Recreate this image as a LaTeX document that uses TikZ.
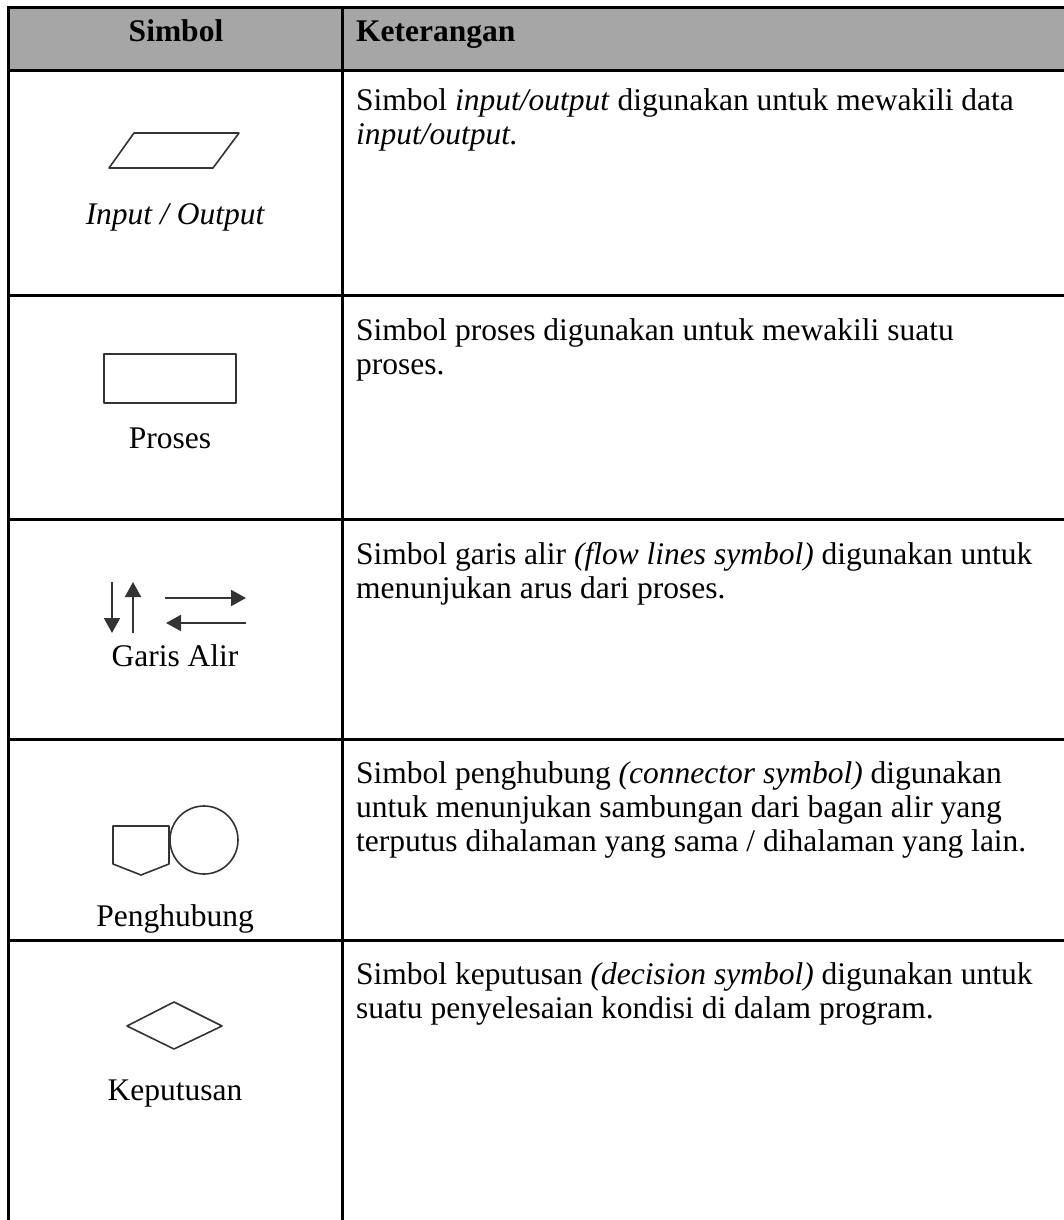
\documentclass[tikz,border=0pt]{standalone}
\usepackage{fontspec}
\setmainfont{Liberation Serif}
\usetikzlibrary{arrows.meta}
\definecolor{headgray}{HTML}{A6A6A6}
\definecolor{shapeline}{HTML}{333333}
\begin{document}
\begin{tikzpicture}[x=1pt,y=-1pt,
  rule/.style={line width=3pt,black},
  sym/.style={line width=1.6pt,shapeline,line join=round},
  flow/.style={line width=2pt,shapeline,-{Triangle[length=15pt,width=16pt]}},
  desc/.style={anchor=base west,inner sep=0pt,font=\fontsize{31.5}{34}\selectfont},
  lbl/.style={anchor=base,inner sep=0pt,font=\fontsize{31.5}{34}\selectfont},
  head/.style={anchor=base,inner sep=0pt,font=\fontsize{31.5}{34}\selectfont\bfseries}]
\useasboundingbox (0,0) rectangle (1064,1220);

% header band
\fill[headgray] (8,8) rectangle (1064,71);

% table rules
\draw[rule] (8,8) -- (1064,8);
\draw[rule] (8,71) -- (1064,71);
\draw[rule] (8,295) -- (1064,295);
\draw[rule] (8,519) -- (1064,519);
\draw[rule] (8,739) -- (1064,739);
\draw[rule] (8,940) -- (1064,940);
\draw[rule] (8,6.5) -- (8,1220);
\draw[rule] (342,8) -- (342,1220);

% header
\node[head] (hs) at (176,42) {Simbol};
\node[head,anchor=base west] (hk) at (356,42) {Keterangan};

% row 1: input/output
\draw[sym] (134,133) -- (239,133) -- (213,168) -- (109,168) -- cycle;
\node[lbl] (l1) at (175,224) {\itshape Input / Output};
\node[desc] (d1a) at (356,111) {Simbol \textit{input/output} digunakan untuk mewakili data};
\node[desc] (d1b) at (356,145) {\textit{input/output.}};

% row 2: process
\draw[sym] (104,354) rectangle (236,403);
\node[lbl] (l2) at (170,448) {Proses};
\node[desc] (d2a) at (356,340) {Simbol proses digunakan untuk mewakili suatu};
\node[desc] (d2b) at (356,374) {proses.};

% row 3: flow lines
\coordinate (dn1) at (112,582);
\coordinate (dn2) at (112,633);
\coordinate (up1) at (133,633);
\coordinate (up2) at (133,582);
\coordinate (rt1) at (165,598);
\coordinate (rt2) at (246,598);
\coordinate (lf1) at (246,623);
\coordinate (lf2) at (166,623);
\draw[flow] (dn1) -- (dn2);
\draw[flow] (up1) -- (up2);
\draw[flow] (rt1) -- (rt2);
\draw[flow] (lf1) -- (lf2);
\node[lbl] (l3) at (175,666) {Garis Alir};
\node[desc] (d3a) at (356,564) {Simbol garis alir \textit{(flow lines symbol)} digunakan untuk};
\node[desc] (d3b) at (356,598) {menunjukan arus dari proses.};

% row 4: connectors
\draw[sym] (113,826) -- (169,826) -- (169,864) -- (141,875) -- (113,864) -- cycle;
\draw[sym] (204,840) circle[radius=34];
\node[lbl] (l4) at (175,926) {Penghubung};
\node[desc] (d4a) at (356,783) {Simbol penghubung \textit{(connector symbol)} digunakan};
\node[desc] (d4b) at (356,817) {untuk menunjukan sambungan dari bagan alir yang};
\node[desc] (d4c) at (356,851) {terputus dihalaman yang sama / dihalaman yang lain.};

% row 5: decision
\draw[sym] (127,1026) -- (174,1002) -- (222,1026) -- (174,1049) -- cycle;
\node[lbl] (l5) at (175,1100) {Keputusan};
\node[desc] (d5a) at (356,984) {Simbol keputusan \textit{(decision symbol)} digunakan untuk};
\node[desc] (d5b) at (356,1018) {suatu penyelesaian kondisi di dalam program.};
\end{tikzpicture}
\end{document}
